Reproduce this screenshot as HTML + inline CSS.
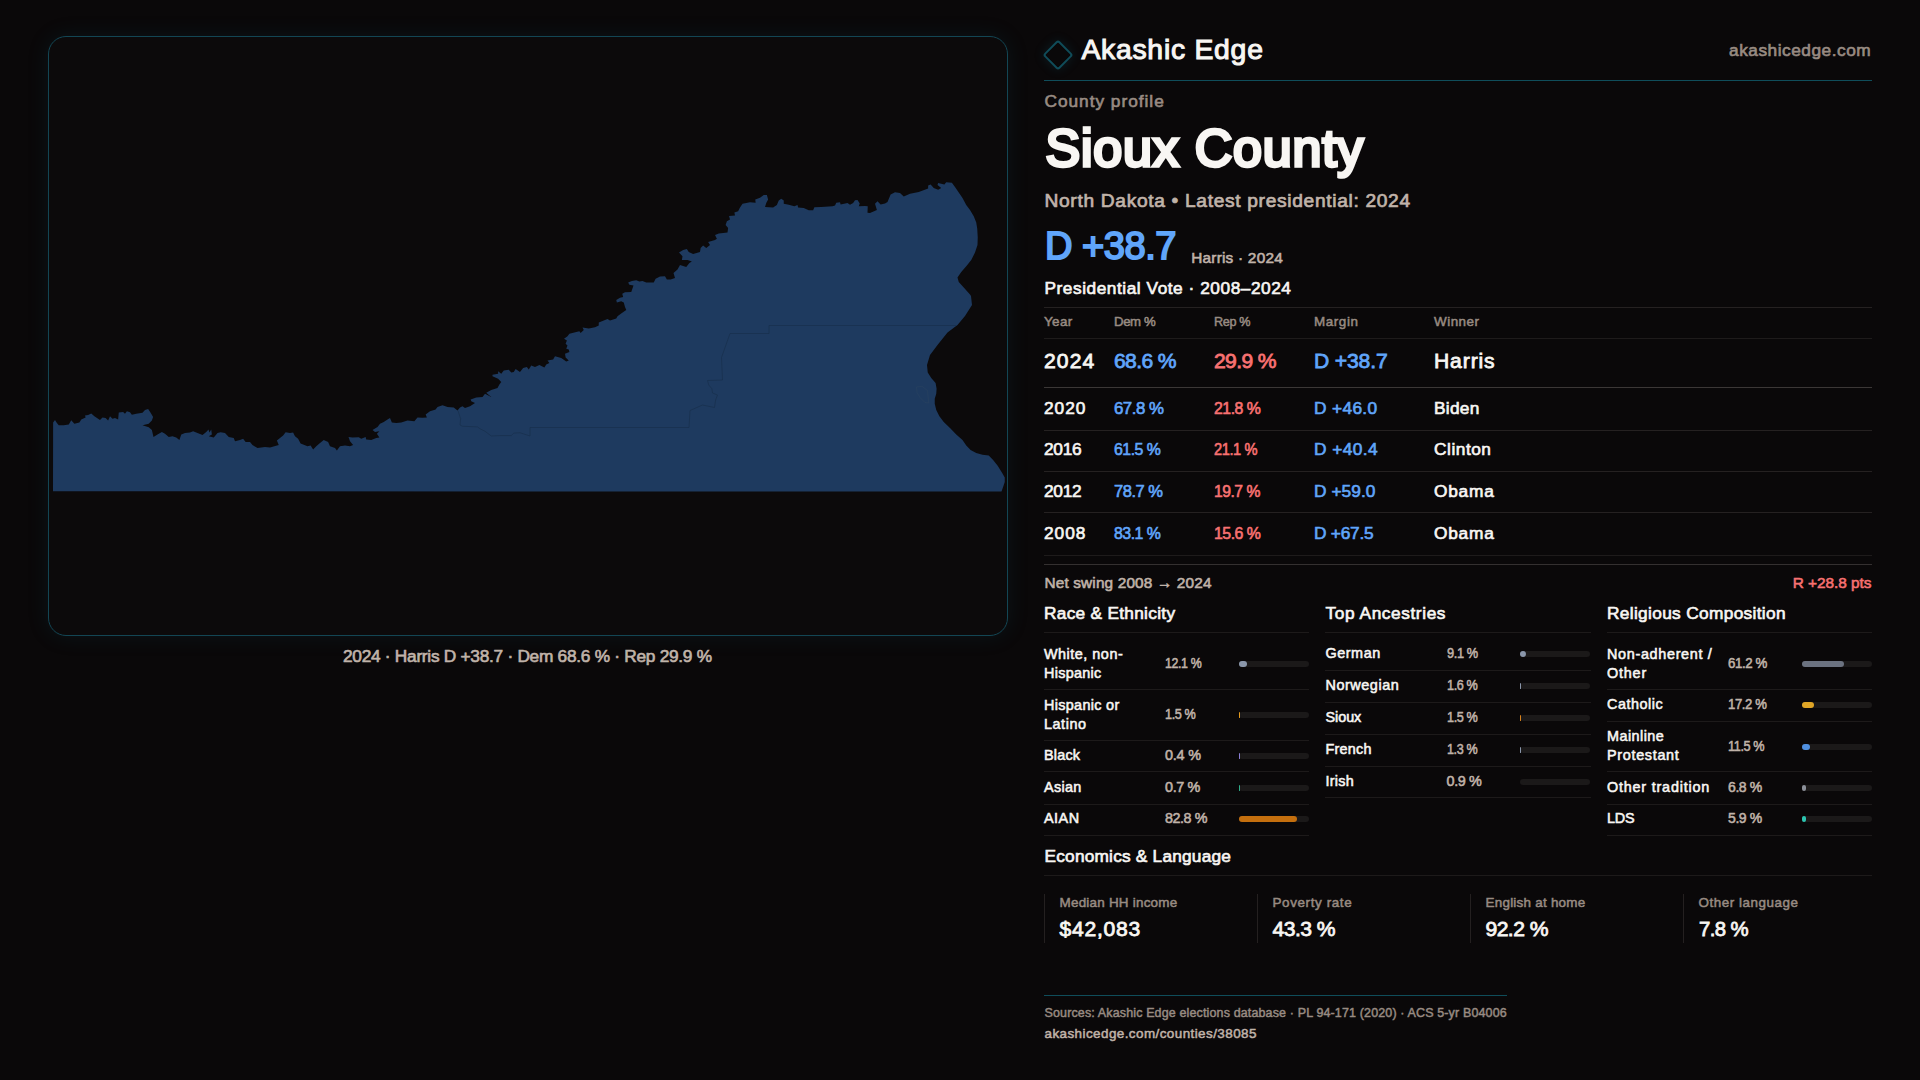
<!DOCTYPE html>
<html lang="en"><head><meta charset="utf-8"><title>Sioux County — County profile | Akashic Edge</title>
<style>
*{box-sizing:border-box;margin:0;padding:0}
html,body{width:1920px;height:1080px;overflow:hidden;background:#0a0809}
body{font-family:"Liberation Sans",sans-serif;color:#f8f6f3;position:relative;
  -webkit-font-smoothing:antialiased}
*{-webkit-text-stroke:0.038em currentColor}
span,p,h1,h2,h3,td,th,div{white-space:nowrap;font-weight:400}
.map-card{position:absolute;left:48px;top:36px;width:960px;height:600px;border:1px solid #134654;
  border-radius:18px;background:#0c0a0b;box-shadow:0 0 22px rgba(20,110,135,.13);overflow:hidden}
.map-card svg{position:absolute;left:-1px;top:-1px;width:960px;height:600px;display:block}
.rule{position:absolute;height:1px;left:1044px;width:828px}
.logo{position:absolute;left:1046.9px;top:44.4px;width:22px;height:22px;transform:rotate(45deg);
  border:2px solid #104c59;border-radius:3px;box-shadow:0 0 12px rgba(20,110,135,.2)}
h1{font-weight:400;-webkit-text-stroke:0.066em currentColor}
.big{-webkit-text-stroke:0.05em currentColor}
table{position:absolute;left:1044px;top:307px;width:828px;border-collapse:collapse;table-layout:fixed}
th,td{text-align:left;padding:0;vertical-align:top;overflow:visible}
th span,td span{position:relative;display:inline-block}
tr{border-top:1px solid #252121}
thead th{height:30px;font-size:13.45px;line-height:30px;color:#988b82}
thead th span{top:-0.9px}
tr.cur{border-top-color:#1e1b1b}
tr.cur td{height:48px;font-size:21.1px;line-height:48px}
tr.cur td span{top:-1.9px}
tbody tr.r td{font-size:17.3px}
tbody tr.first{border-top-color:#3b3736}
tbody tr:last-child{border-bottom:1px solid #1e1b1b}
.b{color:#60a5fa} .r_{color:#f87171}
.col{position:absolute;top:0;width:265px}
.col h3{position:absolute;left:0;font-size:18px}
.col ul{position:absolute;left:0;top:639px;width:265px;list-style:none}
.col li{display:flex;align-items:center;border-bottom:1px solid #1d1a1a}
.col li .lab{display:block;flex:none;width:121px;font-size:14.4px;line-height:18.75px;color:#f8f6f3;position:relative;top:-0.5px}
.col li .lab span{display:block;width:fit-content}
.col li .val{display:block;flex:none;width:73.5px;font-size:14.4px;line-height:18.75px;color:#c0b3a9;position:relative;top:-0.5px}
.col li .val span{display:inline-block}
.col li .bar{flex:none;width:70px;height:6px;border-radius:3px;background:#1b1919}
.col li .bar i{display:block;height:6px;border-radius:3px}
.stat{position:absolute;top:894px;height:49px;width:189px;border-left:1px solid #242020}
</style></head><body>
<main>
<section class="map-card"><svg viewBox="48 36 960 600" aria-label="Sioux County map">
<path d="M53.12 422.5 L55 420 L56.88 423.12 L58.75 425.25 L63.75 425.25 L68.75 424.38 L71.25 420.25 L74.38 423.75 L79.38 422.5 L81.25 419.38 L85.62 417.5 L85 415.62 L88.12 415 L91.25 413.5 L94.38 416.25 L100 420 L102.5 417.5 L105.62 418.12 L108.12 420.62 L110 416.25 L112.5 418.75 L115 418.12 L118.12 419.38 L118.75 412.5 L123.12 411.88 L125 413.75 L126.88 411.25 L130 412.25 L131.88 414.75 L136.25 413.75 L142.5 412.75 L145 410 L148.12 409 L150.62 412.75 L153.12 416.88 L151.88 420.62 L148.75 423.75 L142.5 425.25 L148.75 427.25 L151.88 430 L153.5 436.88 L157.5 434.38 L161.88 431.88 L165 433.75 L168.75 436.88 L172.5 436.25 L176.25 437.5 L179.38 440 L181.25 434.38 L185 433.12 L190 432.5 L193.12 431.25 L197.5 433.12 L202.5 435 L206.25 431.88 L208.5 429.38 L209.38 432.5 L211.25 429.38 L211.88 434.38 L208.75 436.25 L213.75 437.5 L217.5 433.12 L220.62 432.25 L225 433.12 L228.75 436.88 L233.75 438.12 L235 441.25 L240 440 L243.12 438.75 L245.62 441.88 L250 441.88 L252.5 445 L257.5 448.12 L265 446.88 L270 447.5 L278.75 445 L276.88 440.62 L281.25 436.88 L283.12 435.62 L285.62 432.25 L290 433.12 L293.12 432.5 L295 436.25 L298.12 438.75 L300.62 443.5 L304.38 445 L307.5 446.25 L310.62 445.62 L313.12 449.38 L316.25 446.25 L320 443.12 L323.75 440 L328.12 441.88 L330 446.25 L335 448.12 L336.88 450.62 L340 446.25 L345 445.62 L350 446.25 L353.12 445 L350 441.25 L348.5 436.88 L352.5 437.5 L358.75 437.25 L361.25 438.75 L365.62 436.88 L366.25 439.38 L371.25 440 L376.25 438.12 L379.38 437.5 L376.88 433.75 L379.38 431.25 L375 431.88 L372.5 430 L377.5 426.88 L380 423.75 L383.75 421.88 L387.5 419.38 L390 418.12 L391.88 422.5 L396.25 423.12 L401.25 422.5 L407.5 420.62 L414.38 421.25 L417.5 417.5 L422.5 417.75 L426.88 417.5 L425.62 414.38 L430 411.25 L435.62 409.38 L437.5 406.88 L442.5 405.25 L447.5 406.88 L453.75 407.5 L457.5 410.62 L460 407.5 L462.5 406.25 L465 408.12 L470 406.25 L475 403.12 L471.25 401.25 L470.62 399.38 L476.25 397.5 L482.5 396.88 L485 393.75 L491.25 396.88 L486.25 392.75 L491.25 390 L497.5 388.12 L499.38 384.38 L501.25 381.88 L498.12 378.75 L492.5 376.25 L492.5 374.75 L498.12 373.75 L498.12 371.25 L501.25 373.75 L503.75 370.62 L508.75 369.75 L511.25 372.5 L513.75 371.88 L515.62 369 L520 371.88 L523.12 368.12 L526.88 366.88 L528.75 369.38 L531.25 365.62 L535 366.88 L539.38 365 L544.38 367.5 L546.25 364.38 L549.38 363.12 L547.5 360.62 L553.12 359.38 L555 356.25 L561.25 358.12 L566.25 361.5 L568.75 360.62 L565.62 357.5 L565 353.75 L569.38 351.88 L568.75 349.38 L566.25 348.75 L567.5 345.62 L565.62 343.75 L566.88 340.62 L564 338.75 L567.5 336.25 L569.38 333.75 L576.25 331.88 L579.38 331.25 L580.62 333.12 L583.75 330 L582.5 327.5 L588.75 328.5 L595 327.25 L598.75 325.62 L598.75 322.5 L605 320 L607.5 319 L610 320.62 L613.12 319.38 L616.25 318.5 L617.5 316.25 L621.88 313.12 L626.25 310 L625 306.88 L623.75 302.5 L621.25 301.25 L616.88 302.5 L616.25 300 L620 297.75 L623.12 296.88 L622.25 293.75 L625 292.25 L631.25 291.88 L633.5 285.62 L629.38 284.75 L628.12 282.5 L631.88 281 L636.25 280.25 L639.38 281.5 L642.5 281 L646.25 282.5 L653.75 282.5 L655.62 278.75 L660 276.5 L665 276.25 L666.88 279.38 L670.62 279.38 L675 278.12 L673.5 273.12 L677.5 269.38 L680 265 L686.25 266.88 L689.38 263.12 L691.88 261.5 L687.5 260 L681.88 260 L682.5 256.25 L679 252.5 L683.12 250 L686.88 249 L688.75 251.88 L693.12 254 L700 251.88 L700.62 248.12 L703.12 245.62 L706.25 248.12 L710 245 L708.12 241.88 L715 240 L716.88 238.75 L715 235 L718.75 233.5 L727.5 232.5 L728.12 228.12 L725.62 225 L726.88 221.25 L730 219.38 L729 216 L735 215.62 L734.38 212.5 L738.12 211.25 L740 207.5 L742.5 203.75 L750 202.25 L755.62 202.75 L755.25 199.38 L760 197.75 L763.75 195 L766.88 195 L768.12 199.38 L766.25 203.12 L765 206.88 L773.12 207.5 L776.88 205 L778.75 200.62 L781.25 198.75 L783.75 200.62 L783.75 203.75 L788.75 204.75 L794.38 206.25 L797.5 205 L798.12 207.5 L803.75 208.12 L808.75 210.25 L813.12 210.25 L814.38 207.25 L821.25 206.88 L832.5 206.25 L835 205.62 L836.25 202.75 L840 202.25 L840.62 204.38 L847.5 203.12 L850 204.75 L853.12 203.12 L855 200.25 L857.5 200 L859.75 203.5 L858.75 206.25 L865 206 L867.75 206.25 L867.5 212.75 L870 213.12 L876.88 210 L875 203.75 L877.5 201.25 L880.62 204.38 L885 203.5 L887.5 201.88 L890.62 194.38 L895 192.25 L900 193.12 L903.75 196.5 L910 193.75 L918.75 191.88 L928.12 188.5 L928.12 185.62 L930.62 184.38 L933.75 188.12 L938.12 189.75 L941.25 188.12 L937.5 185 L938.12 183.12 L944.38 184.38 L946.25 182.25 L951.88 182.75 L955 186.88 L958.75 192.5 L962.5 198.12 L966.25 205 L970 210 L973.75 216.25 L976.25 222.5 L977.25 228.75 L977.75 237.5 L977.5 245 L975 252.5 L971.25 260 L966.25 266.25 L961.25 271.88 L957.5 277.5 L958.75 281.88 L963.75 287.5 L970 294.38 L971 296 L972 305 L965 316 L957.5 325 L947.5 332.5 L937.5 345 L930 355 L927 365 L927.75 372.5 L931.25 378 L935.6 383 L936.6 388.75 L936.25 393.75 L934.75 398.75 L934.75 403.75 L936.25 410 L939.4 416.25 L943.75 421.9 L950 428.1 L956.25 434.4 L962.5 440 L966.25 445.6 L970.6 450 L976.25 453.1 L982.5 454.75 L988.75 455.6 L993.1 460 L997.5 465.6 L1001.9 472.5 L1004.75 477.5 L1004.75 481.9 L1003.1 486.9 L1001.5 491.5 L53 491.3Z" fill="#1e3a5f"/>
<path d="M956 325.5 L769 325.5 L769 333.5 L730 333.5 L721.5 357.5 L722.5 380 L707.5 380.5 L708.75 385 L711.9 388.75 L712.5 393 L717.5 395 L715.6 400 L714.5 407.5 L702.5 405 L690 410.5 L689 427.5 L530 427.5 L530 436 L520 432.75 L513.75 433.1 L511.25 435.6 L500 435.6 L491.25 436 L485 431.25 L480 428.75 L477.5 426.9 L462.5 426.25 L460 425 L460.6 418.75 L458 410.6" fill="none" stroke="#182f4c" stroke-width="0.8" opacity=".9"/>
<path d="M916.5 387 L922 386.3 L927.5 390.6 L928.75 403 L925 402.5 L920 397.5 L917 392.5 L916.5 387" fill="none" stroke="#30475f" stroke-width="0.5" opacity=".7"/>
</svg></section>
<p class="caption" style="letter-spacing:-0.27px;position:absolute;left:343px;top:645.17px;font-size:17.28px;line-height:22px;color:#c0b3a9;">2024 · Harris D +38.7 · Dem 68.6 % · Rep 29.9 %</p>
<header>
<div class="logo"></div>
<div class="brand" style="letter-spacing:0.76px;position:absolute;left:1081.4px;top:32.12px;font-size:28.32px;line-height:35px;color:#f8f6f3;">Akashic Edge</div>
<div style="letter-spacing:0.52px;position:absolute;right:48.8px;top:38.97px;font-size:17.28px;line-height:22px;color:#988b82;">akashicedge.com</div>
<div class="rule" style="top:80px;background:#0f4d5a"></div>
</header>
<p style="letter-spacing:0.98px;position:absolute;left:1044.5px;top:90.17px;font-size:17.28px;line-height:22px;color:#988b82;">County profile</p>
<h1 style="letter-spacing:0.77px;position:absolute;left:1045.6px;top:116.04px;font-size:52px;line-height:65px;color:#f8f6f3;">Sioux County</h1>
<p style="letter-spacing:0.67px;position:absolute;left:1044.5px;top:188.96px;font-size:19.2px;line-height:24px;color:#c0b3a9;">North Dakota • Latest presidential: 2024</p>
<div class="big" style="letter-spacing:-0.43px;position:absolute;left:1044.9px;top:221.67px;font-size:38.02px;line-height:48px;color:#60a5fa;">D +38.7</div>
<div style="letter-spacing:0.23px;position:absolute;left:1191.2px;top:248.37px;font-size:15.36px;line-height:19px;color:#c0b3a9;">Harris · 2024</div>
<h2 style="letter-spacing:0.54px;position:absolute;left:1044.5px;top:276.87px;font-size:17.28px;line-height:22px;color:#f8f6f3;">Presidential Vote · 2008–2024</h2>
<table>
<colgroup><col style="width:70px"><col style="width:100px"><col style="width:100px"><col style="width:120px"><col></colgroup>
<thead><tr><th><span style="letter-spacing:0.39px">Year</span></th><th><span style="letter-spacing:-0.40px;transform:scaleX(0.982);transform-origin:left center">Dem %</span></th><th><span style="letter-spacing:-0.40px;transform:scaleX(0.939);transform-origin:left center">Rep %</span></th><th><span style="letter-spacing:0.57px">Margin</span></th><th><span style="letter-spacing:0.49px">Winner</span></th></tr></thead>
<tbody><tr class="cur"><td><span style="letter-spacing:1.14px">2024</span></td><td class="b"><span style="letter-spacing:-0.63px">68.6 %</span></td><td class="r_"><span style="letter-spacing:-0.63px">29.9 %</span></td><td class="b"><span style="letter-spacing:-0.14px">D +38.7</span></td><td><span style="letter-spacing:0.88px">Harris</span></td></tr><tr class="r first"><td style="height:42px;line-height:42px"><span style="letter-spacing:1.01px;top:-0.69px">2020</span></td><td class="b" style="height:42px;line-height:42px"><span style="letter-spacing:-0.52px;transform:scaleX(0.976);transform-origin:left center;top:-0.69px">67.8 %</span></td><td class="r_" style="height:42px;line-height:42px"><span style="letter-spacing:-0.52px;transform:scaleX(0.917);transform-origin:left center;top:-0.69px">21.8 %</span></td><td class="b" style="height:42px;line-height:42px"><span style="letter-spacing:0.35px;top:-0.69px">D +46.0</span></td><td style="height:42px;line-height:42px"><span style="letter-spacing:0.26px;top:-0.69px">Biden</span></td></tr><tr class="r"><td style="height:40px;line-height:40px"><span style="letter-spacing:-0.24px;top:-1.59px">2016</span></td><td class="b" style="height:40px;line-height:40px"><span style="letter-spacing:-0.52px;transform:scaleX(0.917);transform-origin:left center;top:-1.59px">61.5 %</span></td><td class="r_" style="height:40px;line-height:40px"><span style="letter-spacing:-0.52px;transform:scaleX(0.848);transform-origin:left center;top:-1.59px">21.1 %</span></td><td class="b" style="height:40px;line-height:40px"><span style="letter-spacing:0.43px;top:-1.59px">D +40.4</span></td><td style="height:40px;line-height:40px"><span style="letter-spacing:0.53px;top:-1.59px">Clinton</span></td></tr><tr class="r"><td style="height:40px;line-height:40px"><span style="letter-spacing:-0.24px;top:-0.69px">2012</span></td><td class="b" style="height:40px;line-height:40px"><span style="letter-spacing:-0.52px;transform:scaleX(0.957);transform-origin:left center;top:-0.69px">78.7 %</span></td><td class="r_" style="height:40px;line-height:40px"><span style="letter-spacing:-0.52px;transform:scaleX(0.907);transform-origin:left center;top:-0.69px">19.7 %</span></td><td class="b" style="height:40px;line-height:40px"><span style="letter-spacing:0.07px;top:-0.69px">D +59.0</span></td><td style="height:40px;line-height:40px"><span style="letter-spacing:0.77px;top:-0.69px">Obama</span></td></tr><tr class="r"><td style="height:42px;line-height:42px"><span style="letter-spacing:1.01px;top:-0.59px">2008</span></td><td class="b" style="height:42px;line-height:42px"><span style="letter-spacing:-0.52px;transform:scaleX(0.917);transform-origin:left center;top:-0.59px">83.1 %</span></td><td class="r_" style="height:42px;line-height:42px"><span style="letter-spacing:-0.52px;transform:scaleX(0.917);transform-origin:left center;top:-0.59px">15.6 %</span></td><td class="b" style="height:42px;line-height:42px"><span style="letter-spacing:-0.22px;top:-0.59px">D +67.5</span></td><td style="height:42px;line-height:42px"><span style="letter-spacing:0.77px;top:-0.59px">Obama</span></td></tr></tbody></table>
<div class="rule" style="top:564px;background:#343030"></div>
<div style="letter-spacing:0.15px;position:absolute;left:1044.5px;top:572.57px;font-size:15.36px;line-height:19px;color:#c0b3a9;">Net swing 2008 → 2024</div>
<div style="letter-spacing:-0.04px;position:absolute;right:48.7px;top:572.57px;font-size:15.36px;line-height:19px;color:#f87171;">R +28.8 pts</div>
<div style="position:absolute;left:1044px;top:0;width:828px">
<section class="col" style="left:0px;width:265px"><h3 style="letter-spacing:0.29px;position:absolute;left:0px;top:602.27px;font-size:17.28px;line-height:22px;color:#f8f6f3;">Race &amp; Ethnicity</h3><div class="rule" style="left:0;width:265px;top:632px;background:#1d1a1a"></div><ul style="width:265px"><li style="height:51px;"><div class="lab"><span style="letter-spacing:0.51px">White, non-</span><span style="letter-spacing:0.29px">Hispanic</span></div><div class="val"><span style="letter-spacing:-0.43px;transform:scaleX(0.859);transform-origin:left center">12.1 %</span></div><div class="bar"><i style="width:8.5px;background:#8a96aa"></i></div></li><li style="height:51px;"><div class="lab"><span style="letter-spacing:0.32px">Hispanic or</span><span style="letter-spacing:0.55px">Latino</span></div><div class="val"><span style="letter-spacing:-0.43px;transform:scaleX(0.880);transform-origin:left center">1.5 %</span></div><div class="bar"><i style="width:1.2px;background:#e39a1e"></i></div></li><li style="height:31px;"><div class="lab"><span style="letter-spacing:0.21px">Black</span></div><div class="val"><span style="letter-spacing:-0.21px">0.4 %</span></div><div class="bar"><i style="width:1.2px;background:#8b7fd6"></i></div></li><li style="height:33px;"><div class="lab"><span style="letter-spacing:0.30px">Asian</span></div><div class="val"><span style="letter-spacing:-0.36px">0.7 %</span></div><div class="bar"><i style="width:1.2px;background:#2fae8a"></i></div></li><li style="height:31px;padding-bottom:2px;"><div class="lab"><span style="letter-spacing:0.48px">AIAN</span></div><div class="val"><span style="letter-spacing:-0.43px;transform:scaleX(0.995);transform-origin:left center">82.8 %</span></div><div class="bar"><i style="width:58.0px;background:#c46f0e"></i></div></li></ul></section>
<section class="col" style="left:281px;width:266px"><h3 style="letter-spacing:0.59px;position:absolute;left:0.5px;top:602.27px;font-size:17.28px;line-height:22px;color:#f8f6f3;">Top Ancestries</h3><div class="rule" style="left:0;width:266px;top:632px;background:#1d1a1a"></div><ul style="width:266px"><li style="height:32px;padding-bottom:2px;"><div class="lab" style="width:121.5px;padding-left:0.5px"><span style="letter-spacing:0.54px">German</span></div><div class="val"><span style="letter-spacing:-0.43px;transform:scaleX(0.887);transform-origin:left center">9.1 %</span></div><div class="bar"><i style="width:6.4px;background:#8a96aa"></i></div></li><li style="height:32px;padding-bottom:2px;"><div class="lab" style="width:121.5px;padding-left:0.5px"><span style="letter-spacing:0.55px">Norwegian</span></div><div class="val"><span style="letter-spacing:-0.43px;transform:scaleX(0.880);transform-origin:left center">1.6 %</span></div><div class="bar"><i style="width:1.2px;background:#8a96aa"></i></div></li><li style="height:32px;padding-bottom:2px;"><div class="lab" style="width:121.5px;padding-left:0.5px"><span style="letter-spacing:-0.05px">Sioux</span></div><div class="val"><span style="letter-spacing:-0.43px;transform:scaleX(0.880);transform-origin:left center">1.5 %</span></div><div class="bar"><i style="width:1.2px;background:#d9821c"></i></div></li><li style="height:32px;padding-bottom:2px;"><div class="lab" style="width:121.5px;padding-left:0.5px"><span style="letter-spacing:0.24px">French</span></div><div class="val"><span style="letter-spacing:-0.43px;transform:scaleX(0.873);transform-origin:left center">1.3 %</span></div><div class="bar"><i style="width:1.2px;background:#8a96aa"></i></div></li><li style="height:31px;"><div class="lab" style="width:121.5px;padding-left:0.5px"><span style="letter-spacing:0.26px">Irish</span></div><div class="val"><span style="letter-spacing:-0.36px">0.9 %</span></div><div class="bar"></div></li></ul></section>
<section class="col" style="left:563px;width:265px"><h3 style="letter-spacing:0.34px;position:absolute;left:0px;top:602.27px;font-size:17.28px;line-height:22px;color:#f8f6f3;">Religious Composition</h3><div class="rule" style="left:0;width:265px;top:632px;background:#1d1a1a"></div><ul style="width:265px"><li style="height:51px;"><div class="lab"><span style="letter-spacing:0.68px">Non-adherent /</span><span style="letter-spacing:0.80px">Other</span></div><div class="val"><span style="letter-spacing:-0.43px;transform:scaleX(0.924);transform-origin:left center">61.2 %</span></div><div class="bar"><i style="width:42.8px;background:#6b7280"></i></div></li><li style="height:32px;padding-bottom:2px;"><div class="lab"><span style="letter-spacing:0.53px">Catholic</span></div><div class="val"><span style="letter-spacing:-0.43px;transform:scaleX(0.912);transform-origin:left center">17.2 %</span></div><div class="bar"><i style="width:12.0px;background:#e0a526"></i></div></li><li style="height:50px;"><div class="lab"><span style="letter-spacing:0.46px">Mainline</span><span style="letter-spacing:0.69px">Protestant</span></div><div class="val"><span style="letter-spacing:-0.43px;transform:scaleX(0.881);transform-origin:left center">11.5 %</span></div><div class="bar"><i style="width:8.0px;background:#4f8fe0"></i></div></li><li style="height:33px;"><div class="lab"><span style="letter-spacing:0.79px">Other tradition</span></div><div class="val"><span style="letter-spacing:-0.43px;transform:scaleX(0.974);transform-origin:left center">6.8 %</span></div><div class="bar"><i style="width:4.8px;background:#8b8f98"></i></div></li><li style="height:31px;padding-bottom:2px;"><div class="lab"><span style="letter-spacing:-0.17px">LDS</span></div><div class="val"><span style="letter-spacing:-0.43px;transform:scaleX(0.974);transform-origin:left center">5.9 %</span></div><div class="bar"><i style="width:4.1px;background:#2cc4b0"></i></div></li></ul></section>
</div>
<h2 style="letter-spacing:0.21px;position:absolute;left:1044.5px;top:844.97px;font-size:17.28px;line-height:22px;color:#f8f6f3;">Economics &amp; Language</h2>
<div class="rule" style="top:875px;background:#1d1a1a"></div>
<div class="stat" style="left:1044px"><span style="letter-spacing:0.23px;position:absolute;left:14.5px;top:-0.43px;font-size:13.44px;line-height:17px;color:#988b82;">Median HH income</span><span style="letter-spacing:0.74px;position:absolute;left:14.5px;top:21.56px;font-size:21.12px;line-height:26px;color:#f8f6f3;">$42,083</span></div>
<div class="stat" style="left:1257px"><span style="letter-spacing:0.61px;position:absolute;left:14.5px;top:-0.43px;font-size:13.44px;line-height:17px;color:#988b82;">Poverty rate</span><span style="letter-spacing:-0.54px;position:absolute;left:14.5px;top:21.56px;font-size:21.12px;line-height:26px;color:#f8f6f3;">43.3 %</span></div>
<div class="stat" style="left:1470px"><span style="letter-spacing:0.24px;position:absolute;left:14.5px;top:-0.43px;font-size:13.44px;line-height:17px;color:#988b82;">English at home</span><span style="letter-spacing:-0.56px;position:absolute;left:14.5px;top:21.56px;font-size:21.12px;line-height:26px;color:#f8f6f3;">92.2 %</span></div>
<div class="stat" style="left:1683px"><span style="letter-spacing:0.53px;position:absolute;left:14.5px;top:-0.43px;font-size:13.44px;line-height:17px;color:#988b82;">Other language</span><span style="letter-spacing:-0.63px;transform:scaleX(0.964);transform-origin:left center;position:absolute;left:14.5px;top:21.56px;font-size:21.12px;line-height:26px;color:#f8f6f3;">7.8 %</span></div>
<footer>
<div class="rule" style="top:995px;width:463px;background:#0f4d5a"></div>
<p style="letter-spacing:0.15px;position:absolute;left:1044.5px;top:1005.43px;font-size:12.48px;line-height:16px;color:#988b82;">Sources: Akashic Edge elections database · PL 94-171 (2020) · ACS 5-yr B04006</p>
<p style="letter-spacing:0.43px;position:absolute;left:1044.5px;top:1025.32px;font-size:13.44px;line-height:17px;color:#c0b3a9;">akashicedge.com/counties/38085</p>
</footer>
</main>
</body></html>
